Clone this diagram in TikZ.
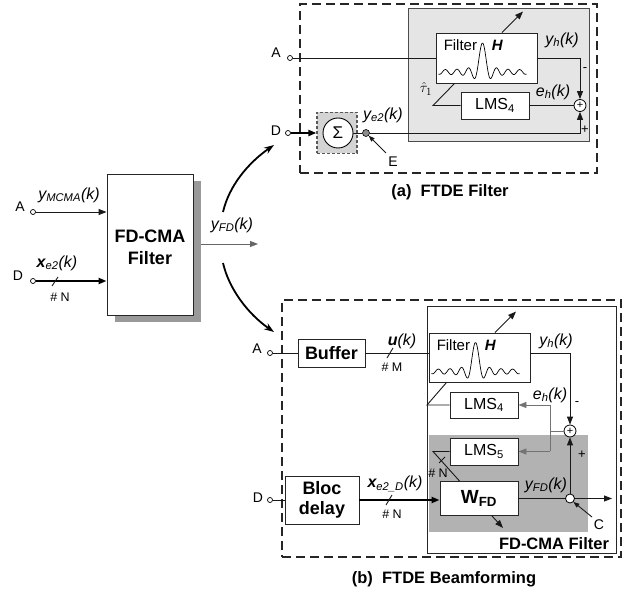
\documentclass[tikz,border=0pt]{standalone}
\usepackage{fontspec}
\setmainfont{Liberation Sans}
\usetikzlibrary{arrows.meta,calc}
\newcommand{\fsz}[1]{\fontsize{#1}{#1}\selectfont}
\newcommand{\filt}[1]{%
  \node[font=\fsz{15}, anchor=base west, inner sep=0] (#1t) at ($(#1.north west)+(8,18)$) {Filter};
  \node[font=\fsz{15}\bfseries\itshape, anchor=base west, inner sep=0] (#1h) at ($(#1.north west)+(56,18)$) {H};
  \begin{scope}[shift={($(#1.center)+(-4,14)$)}]
    \draw[line width=0.7pt] plot[domain=-44:44, samples=160, smooth] (\x, {-27*sin(30*\x)/(\x*pi/6) - 2*cos(30*\x)});
  \end{scope}
}
\begin{document}
\begin{tikzpicture}[x=1pt,y=-1pt,
  box/.style={draw=black!85, line width=0.9pt, fill=white, inner sep=0pt},
  dbox/.style={draw=black!85, line width=2.6pt, dash pattern=on 9pt off 5pt, inner sep=0pt},
  ln/.style={line width=0.9pt, draw=black!90},
  tk/.style={line width=2.3pt},
  gl/.style={line width=0.9pt, draw=black!55},
  arr/.style={-{Triangle[length=8pt,width=6pt]}},
  port/.style={circle, draw, fill=white, line width=0.7pt, inner sep=0pt, minimum size=5pt},
  sum/.style={circle, draw, line width=0.8pt, fill=white, minimum size=12pt, inner sep=0pt, font=\fsz{11}},
  lab/.style={font=\fsz{16}\itshape, inner sep=0pt},
  letr/.style={font=\fsz{14}, inner sep=0pt},
  sm/.style={font=\fsz{12.5}, inner sep=0pt},
  pm/.style={font=\fsz{13}, inner sep=0pt},
  captxt/.style={font=\fsz{16.5}\bfseries, inner sep=0pt},
  curv/.style={line width=1.8pt, -{Stealth[length=10pt,width=7pt]}}
]
\useasboundingbox (0,0) rectangle (635,593);

% ---------------- left block ----------------
\node[fill=black!40, minimum width=86pt, minimum height=141pt, inner sep=0pt] (bigsh) at (158,251.5) {};
\node[box, minimum width=86pt, minimum height=141pt] (big) at (150,244.5) {};
\node[font=\fsz{18}\bfseries, align=center, inner sep=0pt] (bigt) at (150,247.5) {FD-CMA\\[4pt]Filter};

\node[port] (a0) at (33,212) {};
\node[letr] (a0l) at (20,207) {A};
\draw[ln,arr] (a0) -- (a0 -| big.west);
\node[lab] (ymcma) at (69,195) {y\textsubscript{MCMA}(k)};

\node[port] (d0) at (33,281) {};
\node[letr] (d0l) at (18,276) {D};
\draw[tk,arr] (d0) -- (d0 -| big.west);
\node[lab] (xe2) at (57,263) {\textbf{x}\textsubscript{e2}(k)};
\draw[ln] (52,286) -- (58,277);
\node[sm] (nn0) at (60,297) {\# N};

\coordinate (os) at (201,244);
\coordinate (oe) at (258,244);
\draw[line width=0.9pt, draw=black!60, arr] (os) -- (oe);
\node[lab] (yfd0) at (232,225) {y\textsubscript{FD}(k)};

\coordinate (c1s) at (223,212);
\coordinate (c1e) at (274,145);
\draw[curv] (c1s) .. controls (229,186) and (248,163) .. (c1e);
\coordinate (c2s) at (223,263);
\coordinate (c2e) at (274,332);
\draw[curv] (c2s) .. controls (229,289) and (248,314) .. (c2e);

% ---------------- panel (a) ----------------
\node[dbox, minimum width=297pt, minimum height=169pt] (pa) at (448.5,88.5) {};
\node[draw=black!70, fill=black!10, line width=0.8pt, minimum width=181pt, minimum height=133pt, inner sep=0pt] (ga) at (498.5,74.5) {};
\node[box, minimum width=101pt, minimum height=50pt] (fa) at (486.5,58) {};
\filt{fa}
\node[box, minimum width=68pt, minimum height=27pt, font=\fsz{16}] (la) at (495,105.5) {LMS\textsubscript{4}};
\node[sum] (sa) at (580,105.5) {+};
\node[draw=black!65, dash pattern=on 3pt off 2pt, line width=1.3pt, fill=black!17, minimum width=40pt, minimum height=41pt, inner sep=0pt] (sgb) at (337,133) {};
\node[circle, draw, line width=0.9pt, fill=white, minimum size=30pt, inner sep=0pt, font=\fsz{17}] (sg) at (338,133) {Σ};
\node[circle, draw, fill=black!45, minimum size=7pt, inner sep=0pt, line width=0.6pt] (E) at (366,133) {};
\node[port] (ina) at (290,58) {};
\node[port] (ind) at (288,133) {};
\draw[ln] (ina) -- (fa.west);
\draw[tk,arr] (ind) -- (sgb.west);
\draw[ln] (sg.east) -- (E);
\draw[ln,arr] (E) -| (sa.south);
\draw[ln,arr] (fa.east) -| (sa.north);
\draw[ln] (la.east) -- (sa.west);
\coordinate (ta) at (433,105.5);
\draw[ln] (la.west) -- (ta) -- ($(fa.south west)+(19,0)$);
\draw[ln,arr] ($(fa.north)+(15.5,0)$) -- ++(21,-21);

\node[lab] (yha) at (562,40) {y\textsubscript{h}(k)};
\node[pm] (ma) at (585,70) {-};
\node[lab] (eha) at (553,92) {e\textsubscript{h}(k)};
\node[pm] (pla) at (585,130) {+};
\node[font=\fsz{15}, inner sep=0pt] (tau) at (426,89) {$\hat{\tau}_1$};
\node[lab] (ye2) at (383,115) {y\textsubscript{e2}(k)};
\node[letr] (El) at (393,162) {E};
\draw[ln,-{Triangle[length=6pt,width=4.5pt]}] ($(El)+(-7,-9)$) -- (E);
\node[letr] (al) at (276,53) {A};
\node[letr] (dl) at (276,131) {D};
\node[captxt] (capa) at (450,192) {(a)\ \ FTDE Filter};

% ---------------- panel (b) ----------------
\node[dbox, minimum width=339pt, minimum height=257pt] (pb) at (451.5,428.5) {};
\node[box, minimum width=189pt, minimum height=247pt] (wb) at (521.5,429.5) {};
\node[fill=black!30, minimum width=159pt, minimum height=97pt, inner sep=0pt] (gb) at (508.5,483.5) {};
\node[box, minimum width=67pt, minimum height=28pt, font=\fsz{18}\bfseries] (buf) at (331.5,353) {Buffer};
\node[box, minimum width=101pt, minimum height=49pt] (fb) at (479.5,357.5) {};
\filt{fb}
\node[box, minimum width=68pt, minimum height=26pt, font=\fsz{16}] (l4b) at (484,405) {LMS\textsubscript{4}};
\node[sum] (sb) at (570,431) {+};
\node[box, minimum width=68pt, minimum height=27pt, font=\fsz{16}] (l5b) at (484,451.5) {LMS\textsubscript{5}};
\node[box, minimum width=78pt, minimum height=34pt, font=\fsz{19}\bfseries] (wfd) at (479,498.5) {W\textsubscript{FD}};
\node[box, minimum width=74pt, minimum height=48pt, font=\fsz{18}\bfseries, align=center] (bloc) at (322,500) {Bloc\\[2pt]delay};
\node[circle, draw, fill=white, minimum size=9pt, inner sep=0pt, line width=0.8pt] (cc) at (570,498.5) {};
\node[port] (inab) at (270,353) {};
\node[port] (indb) at (270,500) {};

\draw[ln] (inab) -- (buf.west);
\draw[ln] (buf.east) -- (buf.east -| fb.west);
\draw[ln,arr] (fb.east |- buf.east) -| (sb.north);
\coordinate (tb) at (427,405);
\draw[ln] (l4b.west) -- (tb) -- ($(fb.south west)+(18,0)$);
\draw[ln,arr] ($(fb.north)+(15.5,0)$) -- ++(21,-21);
\coordinate (jn) at (550,431);
\coordinate (j4) at (550,405);
\coordinate (j5) at (550,451.5);
\draw[gl] (sb.west) -- (jn);
\draw[gl] (j4) -- (j5);
\draw[gl,arr] (j4) -- (l4b.east);
\draw[gl,arr] (j5) -- (l5b.east);
\coordinate (t5) at (433,451.5);
\draw[ln] (l5b.west) -- (t5) -- ($(wfd.north west)+(20,0)$);
\draw[ln] (439,463) -- (445,457);
\node[sm] (nn5) at (438,473) {\# N};
\draw[ln] (indb) -- (bloc.west);
\draw[tk,arr] (bloc.east) -- (bloc.east -| wfd.west);
\draw[ln] (wfd.east) -- (cc.west);
\coordinate (outb) at (612,498.5);
\draw[ln,arr] (cc.east) -- (outb);
\draw[ln,arr] (cc.north) -- (sb.south);
\draw[ln,arr] ($(wfd.south)+(13,0)$) -- ++(11,12);

\node[lab] (yhb) at (556,341) {y\textsubscript{h}(k)};
\node[pm] (mb) at (577,404) {-};
\node[lab] (ehb) at (550,395) {e\textsubscript{h}(k)};
\node[pm] (plb) at (582,455) {+};
\node[lab] (yfdb) at (546,485) {y\textsubscript{FD}(k)};
\node[letr] (Cl) at (599,525) {C};
\draw[ln,-{Triangle[length=6pt,width=4.5pt]}] ($(Cl)+(-7,-8)$) -- (cc.south east);
\node[font=\fsz{16.5}\bfseries, inner sep=0pt] (fdl) at (554,544) {FD-CMA Filter};
\node[lab] (uk) at (402,341) {\textbf{u}(k)};
\draw[ln] (387,358) -- (393,348);
\node[sm] (nm) at (392,367) {\# M};
\node[lab] (xe2d) at (395,484) {\textbf{x}\textsubscript{e2\_D}(k)};
\draw[ln] (386,505) -- (392,495);
\node[sm] (nnb) at (392,514) {\# N};
\node[letr] (alb) at (257,349) {A};
\node[letr] (dlb) at (258,498) {D};
\node[captxt] (capb) at (444,579) {(b)\ \ FTDE Beamforming};
\end{tikzpicture}
\end{document}
